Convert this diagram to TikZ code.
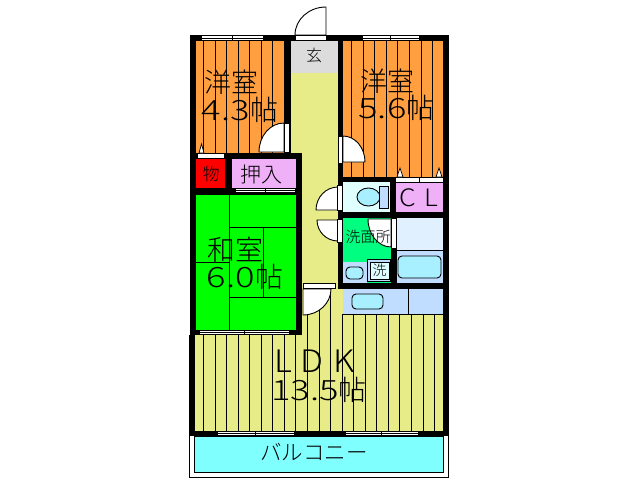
\documentclass[tikz,border=0pt]{standalone}
\usepackage{fontspec}
\newfontfamily\jp{Noto Sans CJK JP Light}
\newfontfamily\jpw[FakeStretch=1.3]{Noto Sans CJK JP Light}
\newfontfamily\jpn[FakeStretch=1.1]{Noto Sans CJK JP Light}
\definecolor{wood}{HTML}{FF9F40}
\definecolor{ldk}{HTML}{E8EC88}
\definecolor{pinkroom}{HTML}{F0B0F8}
\definecolor{wash}{HTML}{00FF80}
\definecolor{balc}{HTML}{80FFFF}
\definecolor{paleblue}{HTML}{C0DCFF}
\definecolor{palecyan}{HTML}{E0FFFF}
\definecolor{palebath}{HTML}{E0F0FF}
\definecolor{fixture}{HTML}{A8F0FF}
\definecolor{entry}{HTML}{DCDCDC}
\tikzset{
  x=1pt,y=-1pt,
  wall/.style={fill=black,draw=none},
  thin line/.style={draw=black,line width=0.9pt},
  door/.style={fill=white,draw=black,line width=0.9pt},
  fixt/.style={fill=fixture,draw=black,line width=0.9pt,rounded corners=4pt},
  lab/.style={inner sep=0pt,text=black},
}
% sliding window: x1 x2 ytop ybot
\newcommand{\slider}[4]{%
  \fill[white] (#1,#3) rectangle (#2,#4);
  \draw[line width=0.7pt] (#1,#3+0.5) rectangle (#2,#4-0.5);
  \pgfmathsetmacro{\xm}{(#1+#2)/2}\pgfmathsetmacro{\ym}{(#3+#4)/2}
  \draw[line width=0.7pt] (#1,\ym) -- (\xm+1,\ym) (\xm-1,\ym) -- (#2,\ym) (\xm,#3+1) -- (\xm,#4-1);
}
\newcommand{\jptext}[5]{\node[lab,font=\fontsize{#4}{#4}\selectfont\jp] (#1) at (#2,#3) {#5};}
\begin{document}
\begin{tikzpicture}
\useasboundingbox (0,0) rectangle (638,480);
\fill[white] (0,0) rectangle (638,480);
% floors
\fill[wood] (196,41) rectangle (284,153);
\fill[wood] (343,41) rectangle (443,177);
\fill[entry] (291,41) rectangle (338,73);
\draw[thin line] (291,73) -- (338,73);
\fill[ldk] (291,73) rectangle (338,290);
\fill[ldk] (195,289) rectangle (443,431);
\fill[red] (196,159) rectangle (225,188);
\fill[pinkroom] (232,159) rectangle (296,188);
\fill[green] (196,195) rectangle (296,330);
\fill[palecyan] (343,182) rectangle (390,212);
\fill[pinkroom] (396,182) rectangle (443,212);
\fill[wash] (343,218) rectangle (391,283);
\fill[paleblue] (343,262) rectangle (367,283);
\fill[palebath] (397,218) rectangle (443,250);
\fill[paleblue] (397,250) rectangle (443,283);
\fill[paleblue] (343,289) rectangle (443,314);
\draw[fill=balc,line width=0.9pt] (194,436) rectangle (443.5,472);
% plank lines
\foreach \k in {0,...,7}{\draw[thin line] ({203.5+11.55*\k},41) -- ({203.5+11.55*\k},153);}
\foreach \k in {0,...,7}{\draw[thin line] ({351.7+11.55*\k},41) -- ({351.7+11.55*\k},177);}
\foreach \k in {0,...,8}{\draw[thin line] ({203.5+11.55*\k},335) -- ({203.5+11.55*\k},431);}
\foreach \k in {9,...,11}{\draw[thin line] ({203.5+11.55*\k},289) -- ({203.5+11.55*\k},431);}
\foreach \k in {12,...,20}{\draw[thin line] ({203.5+11.55*\k},314) -- ({203.5+11.55*\k},431);}
% tatami
\draw[thin line] (229,195) -- (229,330) (229,227) -- (296,227) (263,227) -- (263,297)
  (196,262) -- (229,262) (229,297) -- (296,297);
% fixtures
\draw[thin line] (397,250) -- (443,250) (408,289) -- (408,314) (343,314) -- (443,314);
\draw[fill=fixture,draw=black,line width=0.9pt] (368.5,197) ellipse (11.5 and 9);
\draw[fill=paleblue,draw=black,line width=0.9pt] (379,186) rectangle (388,208);
\draw[fixt] (398,256) rectangle (441,278);
\draw[fixt] (346,267) rectangle (363,279);
\draw[fixt] (352,294) rectangle (383,309);
\draw[fill=paleblue,draw=black,line width=0.9pt] (367.5,259.5) rectangle (390.5,281);
\draw[fill=palecyan,draw=black,line width=0.7pt] (370,262) rectangle (389,279);
% walls
\fill[wall] (190,35) rectangle (449,41);
\fill[wall] (190,35) rectangle (196,159);
\fill[wall] (443,35) rectangle (449,436);
\fill[wall] (284,41) rectangle (291,153);
\fill[wall] (338,41) rectangle (343,283);
\fill[wall] (190,153) rectangle (302,159);
\fill[wall] (190,159) rectangle (196,335);
\fill[wall] (225,159) rectangle (232,188);
\fill[wall] (190,188) rectangle (302,195);
\fill[wall] (296,153) rectangle (302,335);
\fill[wall] (190,330) rectangle (302,335);
\fill[wall] (189,335) rectangle (195,436);
\fill[wall] (189,431) rectangle (449,436);
\fill[wall] (338,177) rectangle (449,182);
\fill[wall] (390,177) rectangle (396,218);
\fill[wall] (338,212) rectangle (449,218);
\fill[wall] (391,218) rectangle (397,289);
\fill[wall] (338,283) rectangle (449,289);
% balcony rail
\draw[line width=0.9pt] (189.5,436) -- (189.5,477) -- (448.5,477) -- (448.5,436);
% windows
\slider{201}{263}{35}{41}
\slider{362}{419}{35}{41}
\slider{235}{295}{188}{193}
\slider{199}{289}{330}{335}
\slider{217}{294}{431}{436}
\slider{345}{418}{431}{436}
% closet sliders with triangles
\fill[white,draw=black,line width=0.7pt] (197,153) rectangle (224,158);
\draw[fill=white,line width=0.7pt] (199,153) -- (201.5,144) -- (204,153) -- cycle;
\fill[white,draw=black,line width=0.7pt] (395,177) rectangle (419,182);
\fill[white,draw=black,line width=0.7pt] (419,177) rectangle (443,182);
\draw[fill=white,line width=0.7pt] (397,177) -- (400,168) -- (403,177) -- cycle;
\draw[fill=white,line width=0.7pt] (436,177) -- (439,168) -- (442,177) -- cycle;
% doors
\draw[door] (326,35) -- (326,7) arc[start angle=90,end angle=180,x radius=31,y radius=-28] -- cycle;
\fill[white,draw=black,line width=0.7pt] (295,35.5) rectangle (326,40.5);
\draw[door] (284,152) -- (284,123) arc[start angle=90,end angle=180,x radius=25,y radius=-29] -- cycle;
\fill[white,draw=black,line width=0.7pt] (284.5,123) rectangle (289.5,152);
\draw[door] (343,162) -- (343,136) arc[start angle=90,end angle=0,x radius=22,y radius=-26] -- cycle;
\fill[white,draw=black,line width=0.7pt] (338.5,136) rectangle (342.5,163);
\draw[door] (338,210) -- (338,187) arc[start angle=90,end angle=180,x radius=22,y radius=-23] -- cycle;
\fill[white,draw=black,line width=0.7pt] (337.5,185) rectangle (342,210);
\draw[door] (338,220) -- (338,241) arc[start angle=270,end angle=180,x radius=21,y radius=-21] -- cycle;
\fill[white,draw=black,line width=0.7pt] (337.5,219) rectangle (342,242);
\draw[door] (391,219) -- (391,247) arc[start angle=270,end angle=180,x radius=23,y radius=-28] -- cycle;
\fill[white,draw=black,line width=0.7pt] (391,218) rectangle (396,248);
\draw[door] (303,289) -- (303,315) arc[start angle=270,end angle=360,x radius=28,y radius=-26] -- cycle;
\fill[white,draw=black,line width=0.7pt] (303,283.5) rectangle (335,288.5);
% labels
\jptext{genkan}{314}{55}{16}{玄}
\jptext{yo1}{231.5}{82}{27}{洋室}
\node[lab,font=\fontsize{28}{28}\selectfont\jpw] (yo1b) at (240,110) {4.3\jp 帖};
\jptext{yo2}{387}{81}{27}{洋室}
\node[lab,font=\fontsize{28}{28}\selectfont\jpw] (yo2b) at (396.5,108) {5.6\jp 帖};
\jptext{mono}{211}{174}{17}{物}
\jptext{oshi}{261}{174}{21}{押入}
\node[lab,font=\fontsize{24}{24}\selectfont\jpn] (cl) at (419,198) {C\hspace{9pt}L};
\jptext{wa}{235.5}{250}{28}{和室}
\node[lab,font=\fontsize{28}{28}\selectfont\jpw] (wab) at (245,277) {6.0\jp 帖};
\jptext{senmen}{368}{237}{15}{洗面所}
\jptext{sen}{379.5}{270.5}{14}{洗}
\node[lab,font=\fontsize{31}{31}\selectfont\jpn] (ldk) at (314.5,361.5) {L\hspace{8pt}D\hspace{10pt}K};
\node[lab,font=\fontsize{28}{28}\selectfont\jpw] (ldkb) at (319,390) {13.5\jp 帖};
\jptext{balcony}{314}{452}{21.5}{バルコニー}
\end{tikzpicture}
\end{document}
